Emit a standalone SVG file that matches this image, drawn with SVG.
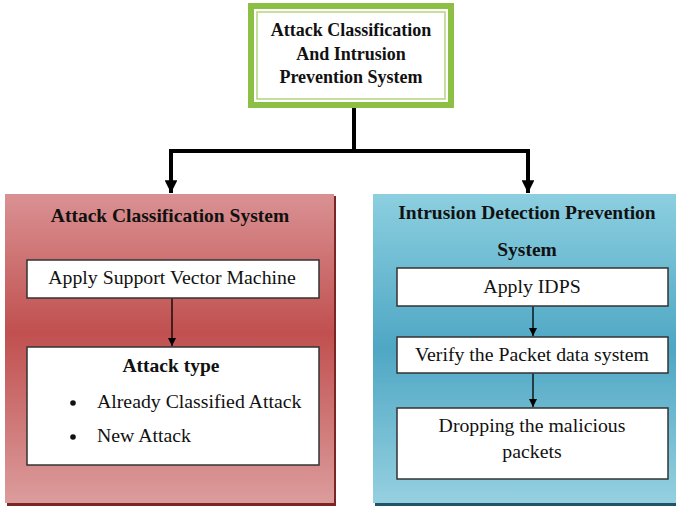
<svg xmlns="http://www.w3.org/2000/svg" width="676" height="507" viewBox="0 0 676 507">
<defs>
<linearGradient id="gRed" x1="0" y1="0" x2="0" y2="1">
<stop offset="0" stop-color="#da9193"/>
<stop offset="0.45" stop-color="#c0504f"/>
<stop offset="1" stop-color="#dc9c9c"/>
</linearGradient>
<linearGradient id="gBlue" x1="0" y1="0" x2="0" y2="1">
<stop offset="0" stop-color="#8ccfe0"/>
<stop offset="0.5" stop-color="#4fa7c4"/>
<stop offset="1" stop-color="#95d0e0"/>
</linearGradient>
<marker id="bigArrow" viewBox="0 0 10 10" refX="10" refY="5" markerWidth="3.2" markerHeight="3.2" orient="auto" markerUnits="strokeWidth">
<path d="M0,0 L10,5 L0,10 Z" fill="#000"/>
</marker>
<marker id="smallArrow" viewBox="0 0 10 10" refX="10" refY="5" markerWidth="8" markerHeight="8" orient="auto" markerUnits="userSpaceOnUse">
<path d="M0,0 L10,5 L0,10 Z" fill="#000"/>
</marker>
</defs>
<style>
.t{font-family:"Liberation Serif","Times New Roman",serif;fill:#111;}
.b{font-weight:bold;}
.c{stroke:#000;fill:none;}
</style>

<g id="root">
<rect x="251" y="6" width="200" height="99" fill="#fff" stroke="#8dbf45" stroke-width="6"/>
<rect x="257" y="12" width="188" height="87" fill="#fff" stroke="#b3d57e" stroke-width="1.5"/>
<text class="t b" x="351" y="36" font-size="18" text-anchor="middle">Attack Classification</text>
<text class="t b" x="351" y="60" font-size="18" text-anchor="middle">And Intrusion</text>
<text class="t b" x="351" y="83" font-size="18" text-anchor="middle">Prevention System</text>
</g>

<g id="acs">
<rect x="7" y="196" width="329" height="310" fill="#7a2624"/>
<rect x="5" y="194" width="329" height="309" fill="url(#gRed)"/>
<text class="t b" x="170" y="222" font-size="19.5" text-anchor="middle">Attack Classification System</text>
</g>

<g id="svm">
<rect x="27" y="260" width="292" height="38" fill="#fff" stroke="#333" stroke-width="1.5"/>
<text class="t" x="172" y="284" font-size="19.8" text-anchor="middle">Apply Support Vector Machine</text>
</g>

<g id="attacktype">
<rect x="27" y="347" width="292" height="118" fill="#fff" stroke="#333" stroke-width="1.5"/>
<text class="t b" x="171" y="372" font-size="19.5" text-anchor="middle">Attack type</text>
<circle cx="73" cy="403" r="2.8" fill="#111"/>
<text class="t" x="97" y="408" font-size="19.8">Already Classified Attack</text>
<circle cx="73" cy="437" r="2.8" fill="#111"/>
<text class="t" x="97" y="442" font-size="19.8">New Attack</text>
</g>

<g id="idps">
<rect x="375" y="196" width="303" height="310" fill="#1f5566"/>
<rect x="373" y="194" width="305" height="309" fill="url(#gBlue)"/>
<text class="t b" x="527" y="219" font-size="19.5" text-anchor="middle">Intrusion Detection Prevention</text>
<text class="t b" x="527" y="256" font-size="19.5" text-anchor="middle">System</text>
</g>

<g id="applyidps">
<rect x="397" y="268" width="271" height="38" fill="#fff" stroke="#333" stroke-width="1.5"/>
<text class="t" x="532" y="293" font-size="19.8" text-anchor="middle">Apply IDPS</text>
</g>

<g id="verify">
<rect x="397" y="337" width="271" height="36" fill="#fff" stroke="#333" stroke-width="1.5"/>
<text class="t" x="532" y="361" font-size="19.8" text-anchor="middle">Verify the Packet data system</text>
</g>

<g id="drop">
<rect x="397" y="408" width="271" height="71" fill="#fff" stroke="#333" stroke-width="1.5"/>
<text class="t" x="532" y="432" font-size="19.8" text-anchor="middle">Dropping the malicious</text>
<text class="t" x="532" y="458" font-size="19.8" text-anchor="middle">packets</text>
</g>

<g id="connectors">
<path class="c" d="M354,108 V151 M171,151 H528" stroke-width="4"/>
<path class="c" d="M171,149 V193" stroke-width="4" marker-end="url(#bigArrow)"/>
<path class="c" d="M528,149 V193" stroke-width="4" marker-end="url(#bigArrow)"/>
<path class="c" d="M172,298.8 V346" stroke-width="1.3" marker-end="url(#smallArrow)"/>
<path class="c" d="M533,306.8 V336" stroke-width="1.3" marker-end="url(#smallArrow)"/>
<path class="c" d="M533,373.8 V407" stroke-width="1.3" marker-end="url(#smallArrow)"/>
</g>
</svg>
